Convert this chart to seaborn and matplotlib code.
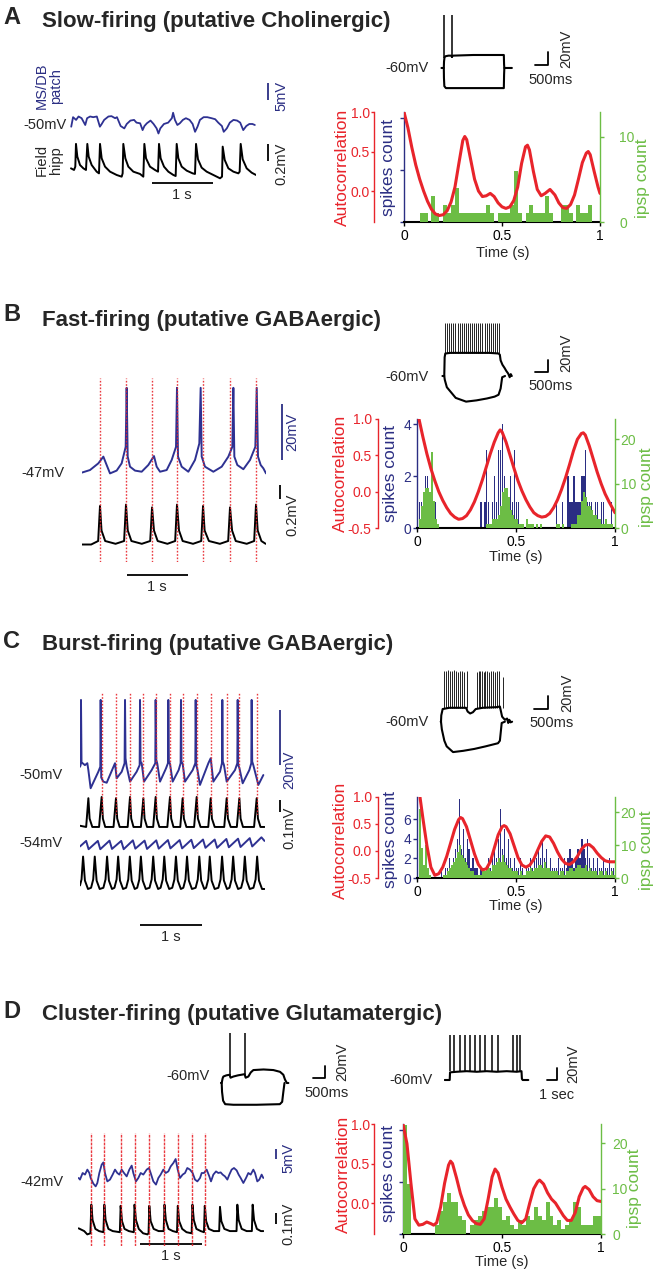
import numpy as np
import matplotlib
matplotlib.use("Agg")
import matplotlib.pyplot as plt
import seaborn as sns

sns.set_style("ticks")
plt.rcParams["font.family"] = ["Liberation Sans", "DejaVu Sans"]

RED = "#e8242b"
NAVY = "#2b2e83"
GREEN = "#6cbd45"
TRACE_BLUE = "#2e3192"

# ---------------- data ----------------
# A : slow-firing.  traces as (time s, mV / mV relative)
a_patch = [(0.02, -0.5), (0.05, 2.3), (0.10, 1.5), (0.14, 2.5), (0.19, 2.0), (0.25, 0.0), (0.28, 2.0),
           (0.33, 2.5), (0.38, 2.3), (0.44, 2.5), (0.49, -0.5), (0.52, 0.3), (0.56, 1.5), (0.63, 2.5),
           (0.68, 2.6), (0.74, 2.0), (0.77, 2.3), (0.83, -0.3), (0.89, -1.0), (0.93, 0.3), (0.99, 1.3),
           (1.05, 1.5), (1.09, 0.7), (1.15, 0.5), (1.19, -1.5), (1.22, -0.3), (1.26, 0.5), (1.32, 1.3),
           (1.37, 0.3), (1.42, -1.0), (1.45, -2.5), (1.48, -1.0), (1.54, 0.3), (1.61, 0.7), (1.67, 2.0),
           (1.69, 3.6), (1.72, 1.5), (1.76, 0.0), (1.80, 0.5), (1.85, 1.5), (1.90, 2.0), (1.96, 1.5),
           (2.01, 0.3), (2.05, -2.0), (2.09, -0.5), (2.13, 1.5), (2.19, 2.3), (2.25, 2.3), (2.32, 2.0),
           (2.38, 1.7), (2.43, 0.7), (2.49, -0.3), (2.52, -2.0), (2.57, -1.0), (2.62, 0.7), (2.68, 1.5),
           (2.74, 1.3), (2.79, 0.7), (2.84, -1.5), (2.89, -0.3), (2.94, 0.3), (2.99, 0.3), (3.03, 0.0)]
a_field = [(0.016, 0.137), (0.066, 0.118), (0.087, 0.157), (0.098, 0.424), (0.120, 0.275), (0.164, 0.176),
           (0.219, 0.137), (0.262, 0.118), (0.284, 0.424), (0.306, 0.275), (0.355, 0.176), (0.437, 0.098),
           (0.475, 0.078), (0.492, 0.424), (0.519, 0.255), (0.574, 0.157), (0.656, 0.098), (0.765, 0.059),
           (0.847, 0.039), (0.863, 0.078), (0.874, 0.424), (0.907, 0.255), (0.956, 0.157), (1.038, 0.098),
           (1.148, 0.071), (1.202, 0.039), (1.219, 0.424), (1.246, 0.255), (1.311, 0.157), (1.393, 0.118),
           (1.443, 0.098), (1.459, 0.424), (1.486, 0.255), (1.541, 0.157), (1.612, 0.098), (1.694, 0.059),
           (1.732, 0.047), (1.749, 0.424), (1.776, 0.255), (1.831, 0.157), (1.913, 0.110), (2.011, 0.078),
           (2.049, 0.071), (2.066, 0.424), (2.098, 0.243), (2.158, 0.145), (2.240, 0.098), (2.350, 0.059),
           (2.459, 0.020), (2.492, 0.039), (2.503, 0.392), (2.536, 0.235), (2.596, 0.137), (2.678, 0.098),
           (2.760, 0.078), (2.781, 0.098), (2.798, 0.424), (2.831, 0.243), (2.896, 0.137), (2.978, 0.086),
           (3.049, 0.059)]
a_step_up = [(-20, -60), (70, -60), (78, -50), (95, -44), (130, -42), (250, -41), (365, -41), (380, -43),
             (420, -41), (1200, -40), (2380, -40), (2390, -55), (2400, -60), (2690, -60)]
a_step_dn = [(70, -60), (75, -75), (90, -88), (150, -91), (2380, -91), (2390, -70), (2400, -60)]
a_step_spikes = [95, 373]
a_acorr = [(0.00, 1.00), (0.02, 0.80), (0.04, 0.55), (0.06, 0.33), (0.08, 0.15), (0.10, 0.00), (0.12, -0.13),
           (0.14, -0.23), (0.16, -0.29), (0.18, -0.31), (0.20, -0.30), (0.22, -0.25), (0.24, -0.14),
           (0.26, 0.05), (0.28, 0.35), (0.30, 0.64), (0.31, 0.69), (0.32, 0.65), (0.34, 0.40), (0.36, 0.15),
           (0.38, 0.00), (0.40, -0.07), (0.42, -0.06), (0.44, -0.03), (0.46, -0.07), (0.48, -0.15),
           (0.50, -0.20), (0.52, -0.22), (0.54, -0.20), (0.56, -0.12), (0.58, 0.05), (0.60, 0.35),
           (0.62, 0.56), (0.63, 0.58), (0.64, 0.52), (0.66, 0.25), (0.68, 0.02), (0.70, -0.06), (0.72, -0.03),
           (0.745, 0.02), (0.77, -0.05), (0.79, -0.15), (0.81, -0.21), (0.83, -0.22), (0.85, -0.17),
           (0.87, -0.05), (0.89, 0.15), (0.91, 0.36), (0.93, 0.48), (0.94, 0.50), (0.95, 0.46), (0.97, 0.25),
           (0.99, 0.05), (1.00, -0.03)]
a_ipsp = [0, 0, 0, 0, 1, 1, 0, 3, 1, 0, 2, 1, 2, 4, 1, 1, 1, 1, 1, 1, 1, 2, 1, 0, 1,
          1, 1, 2, 6, 1, 0, 1, 2, 1, 1, 1, 3, 1, 0, 0, 2, 2, 1, 0, 2, 1, 1, 2, 0, 0]

# B : fast-firing
b_patch = [(0.0, -0.2), (0.131, 0.7), (0.268, 3.1), (0.35, 5.5), (0.393, 3.1), (0.459, -0.5), (0.568, 0.5),
           (0.650, 3.1), (0.716, 9.0), (0.732, 30.1), (0.749, 5.5), (0.787, 1.9), (0.869, 0.5), (0.978, 0.1),
           (1.087, 2.5), (1.180, 5.7), (1.224, 1.9), (1.279, 0.1), (1.388, 0.7), (1.470, 4.3), (1.541, 9.0),
           (1.557, 30.1), (1.574, 5.5), (1.634, 1.9), (1.743, 0.1), (1.852, 4.3), (1.923, 10.2), (1.945, 30.1),
           (1.962, 5.5), (2.016, 1.9), (2.153, 0.1), (2.290, 1.9), (2.399, 5.5), (2.464, 9.0), (2.481, 30.1),
           (2.497, 5.5), (2.546, 2.5), (2.645, 1.0), (2.754, 4.3), (2.841, 9.0), (2.864, 30.1), (2.885, 5.5),
           (2.929, 2.5), (2.973, 1.3), (3.016, -0.5)]
b_field = [(0.00, 0.05), (0.15, 0.05), (0.265, 0.10), (0.295, 0.60), (0.32, 0.25), (0.38, 0.10), (0.55, 0.06),
           (0.69, 0.10), (0.721, 0.62), (0.75, 0.25), (0.81, 0.10), (0.98, 0.06), (1.118, 0.10), (1.148, 0.58),
           (1.18, 0.25), (1.24, 0.10), (1.40, 0.06), (1.527, 0.10), (1.557, 0.62), (1.59, 0.25), (1.65, 0.10),
           (1.82, 0.06), (1.954, 0.10), (1.984, 0.60), (2.01, 0.25), (2.08, 0.10), (2.26, 0.06), (2.396, 0.10),
           (2.426, 0.58), (2.46, 0.25), (2.52, 0.10), (2.70, 0.06), (2.822, 0.10), (2.852, 0.62), (2.88, 0.25),
           (2.94, 0.10), (3.01, 0.06)]
b_marks = [0.295, 0.721, 1.148, 1.557, 1.984, 2.426, 2.852]
b_step_up = [(-10, -60), (60, -60), (75, -30), (100, -24), (300, -23), (1000, -23), (1800, -23), (2150, -24),
             (2200, -26), (2230, -35), (2300, -42), (2380, -47), (2450, -52), (2520, -56), (2580, -62),
             (2620, -57), (2660, -60)]
b_step_dn = [(60, -60), (80, -66), (160, -78), (280, -84), (500, -95), (900, -101), (1300, -99), (1700, -96),
             (2000, -93), (2150, -90), (2230, -80), (2290, -62), (2400, -60)]
b_step_spikes = [95, 170, 250, 330, 410, 490, 570, 650, 730, 810, 890, 970, 1050, 1130, 1210, 1290, 1370,
                 1450, 1530, 1610, 1690, 1770, 1850, 1930, 2010, 2090, 2160]
b_acorr = [(0.01, 1.00), (0.03, 0.75), (0.05, 0.52), (0.07, 0.32), (0.09, 0.15), (0.11, 0.00), (0.13, -0.12),
           (0.15, -0.22), (0.17, -0.30), (0.19, -0.35), (0.21, -0.38), (0.23, -0.37), (0.25, -0.33),
           (0.27, -0.25), (0.29, -0.14), (0.31, 0.00), (0.33, 0.16), (0.35, 0.34), (0.37, 0.52), (0.39, 0.68),
           (0.41, 0.81), (0.42, 0.85), (0.43, 0.82), (0.45, 0.68), (0.47, 0.50), (0.49, 0.32), (0.51, 0.15),
           (0.53, 0.01), (0.55, -0.11), (0.57, -0.21), (0.59, -0.29), (0.61, -0.33), (0.63, -0.35),
           (0.65, -0.34), (0.67, -0.30), (0.69, -0.22), (0.71, -0.11), (0.73, 0.03), (0.75, 0.19), (0.77, 0.37),
           (0.79, 0.56), (0.81, 0.72), (0.83, 0.80), (0.84, 0.81), (0.85, 0.78), (0.87, 0.63), (0.89, 0.45),
           (0.91, 0.27), (0.93, 0.11), (0.95, -0.03), (0.97, -0.14), (0.99, -0.24), (1.00, -0.29)]
b_spikes = [4, 1, 1, 1, 2, 2, 1, 1, 0, 1,
            0, 0, 0, 0, 0, 0, 0, 0, 0, 0,
            0, 0, 0, 0, 0, 0, 0, 0, 0, 0,
            0, 0, 1, 0, 1, 3, 1, 0, 1, 2,
            1, 3, 3, 4, 2, 1, 1, 2, 1, 3,
            1, 1, 0, 0, 0, 0, 0, 0, 0, 0,
            0, 0, 0, 0, 0, 0, 0, 0, 0, 0,
            1, 0, 0, 1, 0, 0, 2, 1, 1, 2,
            1, 1, 1, 2, 2, 3, 1, 1, 1, 0,
            1, 1, 0, 1, 1, 0, 0, 0, 1, 0]
b_ipsp = [0, 2, 5, 8, 9, 9, 8, 17, 6, 2,
          1, 0, 0, 0, 0, 0, 0, 0, 0, 0,
          0, 0, 0, 0, 0, 0, 0, 0, 0, 0,
          0, 0, 0, 0, 0, 1, 1, 1, 2, 2,
          2, 3, 5, 8, 9, 9, 7, 4, 3, 2,
          2, 1, 1, 1, 0, 2, 1, 1, 1, 0,
          1, 0, 1, 0, 0, 0, 0, 0, 0, 0,
          1, 1, 0, 1, 0, 0, 0, 0, 1, 1,
          1, 3, 3, 6, 8, 7, 5, 5, 4, 3,
          3, 2, 2, 1, 1, 2, 1, 1, 1, 0]

# C : burst-firing
c_patch1 = [(0.000, 5.9), (0.010, 6.5), (0.016, 30.2), (0.025, 7.2), (0.043, 7.2), (0.080, 6.5), (0.119, 7.2),
            (0.136, 4.7), (0.173, -1.9), (0.298, 4.1), (0.330, 5.9), (0.336, 30.2), (0.345, 2.0), (0.379, 0.5),
            (0.434, 0.1), (0.569, 7.2), (0.596, 1.7), (0.678, 4.1), (0.725, 7.2), (0.732, 30.2), (0.740, 9.0),
            (0.759, 6.0), (0.813, 0.5), (0.921, 4.1), (0.970, 6.5), (0.976, 30.2), (0.985, 7.8), (1.003, 7.2),
            (1.041, 0.5), (1.165, 4.7), (1.224, 7.2), (1.230, 30.2), (1.240, 8.4), (1.257, 7.0), (1.301, 0.5),
            (1.398, 5.3), (1.430, 7.2), (1.436, 30.2), (1.445, 7.8), (1.463, 7.0), (1.507, 0.5), (1.604, 4.7),
            (1.636, 7.2), (1.642, 30.2), (1.650, 7.8), (1.669, 7.0), (1.707, 0.5), (1.832, 4.7), (1.875, 7.2),
            (1.881, 30.2), (1.890, 6.5), (1.908, 5.0), (1.951, -0.7), (2.087, 7.2), (2.125, 9.0), (2.168, 0.5),
            (2.276, 4.1), (2.308, 7.2), (2.314, 30.2), (2.322, 7.8), (2.341, 6.5), (2.385, 0.5), (2.520, 4.7),
            (2.558, 7.2), (2.564, 30.2), (2.572, 6.5), (2.591, 5.5), (2.645, -0.1), (2.753, 4.7), (2.785, 7.2),
            (2.791, 30.2), (2.800, 7.8), (2.818, 6.5), (2.900, -0.7), (2.981, 2.9)]
c_field1 = [(0.00, 0.01), (0.10, 0.0), (0.136, 0.24), (0.156, 0.07), (0.20, 0.0), (0.31, 0.0), (0.352, 0.25),
            (0.372, 0.07), (0.41, 0.0), (0.545, 0.0), (0.585, 0.24), (0.605, 0.07), (0.645, 0.0), (0.775, 0.0),
            (0.813, 0.25), (0.833, 0.07), (0.87, 0.0), (0.99, 0.0), (1.030, 0.24), (1.05, 0.07), (1.09, 0.0),
            (1.19, 0.0), (1.230, 0.25), (1.25, 0.07), (1.29, 0.0), (1.42, 0.0), (1.463, 0.25), (1.483, 0.07),
            (1.52, 0.0), (1.63, 0.0), (1.669, 0.24), (1.689, 0.07), (1.73, 0.0), (1.855, 0.0), (1.897, 0.25),
            (1.917, 0.07), (1.96, 0.0), (2.085, 0.0), (2.125, 0.24), (2.145, 0.07), (2.19, 0.0), (2.345, 0.0),
            (2.385, 0.24), (2.405, 0.07), (2.45, 0.0), (2.55, 0.0), (2.591, 0.24), (2.611, 0.07), (2.65, 0.0),
            (2.83, 0.0), (2.873, 0.24), (2.893, 0.07), (2.935, 0.0), (3.0, 0.0)]
c_marks = [0.352, 0.585, 0.813, 1.030, 1.230, 1.463, 1.669, 1.897, 2.125, 2.385, 2.591, 2.873]
c_patch2 = [(0.00, -0.5), (0.10, 1.5), (0.14, -1.5), (0.29, 1.5), (0.33, -1.5), (0.48, 1.6), (0.52, -1.4),
            (0.67, 1.5), (0.71, -1.5), (0.86, 1.7), (0.90, -1.3), (1.05, 1.6), (1.09, -1.4), (1.24, 1.7),
            (1.28, -1.3), (1.43, 1.8), (1.47, -1.2), (1.62, 1.8), (1.66, -1.2), (1.81, 1.9), (1.85, -1.1),
            (2.00, 2.0), (2.04, -1.0), (2.19, 2.0), (2.23, -1.0), (2.38, 2.2), (2.42, -0.8), (2.57, 2.3),
            (2.61, -0.7), (2.76, 2.5), (2.80, -0.5), (2.95, 2.8), (3.00, 1.5)]
c_field2 = [(0.0, 0.03), (0.025, 0.08), (0.05, 0.27), (0.08, 0.07), (0.13, 0.0),
            (0.18, 0.01), (0.215, 0.08), (0.24, 0.27), (0.27, 0.07), (0.32, 0.0),
            (0.38, 0.01), (0.415, 0.08), (0.44, 0.27), (0.47, 0.07), (0.52, 0.0),
            (0.56, 0.01), (0.595, 0.08), (0.62, 0.27), (0.65, 0.07), (0.70, 0.0),
            (0.75, 0.01), (0.785, 0.08), (0.81, 0.27), (0.84, 0.07), (0.89, 0.0),
            (0.93, 0.01), (0.965, 0.08), (0.99, 0.27), (1.02, 0.07), (1.07, 0.0),
            (1.13, 0.01), (1.165, 0.08), (1.19, 0.27), (1.22, 0.07), (1.27, 0.0),
            (1.31, 0.01), (1.345, 0.08), (1.37, 0.27), (1.40, 0.07), (1.45, 0.0),
            (1.50, 0.01), (1.535, 0.08), (1.56, 0.27), (1.59, 0.07), (1.64, 0.0),
            (1.68, 0.01), (1.715, 0.08), (1.74, 0.27), (1.77, 0.07), (1.82, 0.0),
            (1.88, 0.01), (1.915, 0.08), (1.94, 0.27), (1.97, 0.07), (2.02, 0.0),
            (2.05, 0.01), (2.085, 0.08), (2.11, 0.27), (2.14, 0.07), (2.19, 0.0),
            (2.25, 0.01), (2.285, 0.08), (2.31, 0.27), (2.34, 0.07), (2.39, 0.0),
            (2.43, 0.01), (2.465, 0.08), (2.49, 0.27), (2.52, 0.07), (2.57, 0.0),
            (2.62, 0.01), (2.655, 0.08), (2.68, 0.27), (2.71, 0.07), (2.76, 0.0),
            (2.82, 0.01), (2.855, 0.08), (2.88, 0.27), (2.91, 0.07), (2.96, 0.0), (3.0, 0.0)]
c_step_up = [(-10, -60), (0, -60), (10, -50), (60, -40), (300, -38), (900, -38), (960, -44), (1050, -47),
             (1150, -45), (1250, -40), (1500, -38), (2000, -37), (2120, -36), (2150, -42), (2200, -52),
             (2300, -57), (2380, -55), (2420, -62), (2460, -57), (2500, -61), (2560, -60)]
c_step_dn = [(0, -60), (30, -72), (120, -90), (205, -99), (433, -108), (800, -106), (1200, -103), (1600, -99),
             (2052, -94), (2120, -90), (2185, -62), (2300, -60)]
c_step_spikes = [110, 180, 250, 320, 390, 460, 530, 600, 680, 760, 840, 920, 1290, 1350, 1410, 1470, 1530,
                 1600, 1670, 1740, 1810, 1880, 1950, 2020, 2090, 2240]
c_step_peaks = [20, 20, 22, 20, 20, 22, 20, 19, 20, 20, 19, 20, 19, 20, 20, 20, 19, 20, 20, 19, 20, 20, 19,
                20, 20, 11]
c_acorr = [(0.015, 1.00), (0.03, 0.60), (0.05, 0.10), (0.07, -0.30), (0.09, -0.45), (0.11, -0.42),
           (0.13, -0.30), (0.15, -0.10), (0.17, 0.15), (0.19, 0.40), (0.21, 0.58), (0.22, 0.62), (0.23, 0.60),
           (0.25, 0.45), (0.27, 0.20), (0.29, -0.05), (0.31, -0.25), (0.33, -0.35), (0.35, -0.33),
           (0.37, -0.20), (0.39, 0.05), (0.41, 0.30), (0.43, 0.45), (0.44, 0.47), (0.45, 0.45), (0.47, 0.32),
           (0.49, 0.10), (0.51, -0.12), (0.53, -0.26), (0.55, -0.30), (0.57, -0.26), (0.59, -0.15),
           (0.61, 0.02), (0.63, 0.18), (0.65, 0.28), (0.67, 0.26), (0.69, 0.14), (0.71, -0.02), (0.73, -0.15),
           (0.75, -0.23), (0.77, -0.25), (0.79, -0.20), (0.81, -0.10), (0.83, 0.03), (0.85, 0.11), (0.87, 0.12),
           (0.89, 0.06), (0.91, -0.04), (0.93, -0.12), (0.95, -0.18), (0.97, -0.20), (1.00, -0.20)]
c_spikes = [3, 5, 2, 1, 0, 1, 0, 0, 0, 0,
            0, 0, 1, 0, 1, 1, 2, 1, 2, 3,
            4, 8, 3, 5, 2, 4, 3, 1, 2, 1,
            1, 0, 1, 1, 0, 1, 2, 1, 2, 3,
            2, 4, 7, 3, 5, 2, 4, 2, 1, 2,
            1, 1, 2, 1, 0, 1, 1, 2, 1, 2,
            2, 3, 2, 4, 2, 3, 1, 2, 1, 1,
            1, 2, 1, 1, 2, 1, 2, 3, 2, 1,
            2, 3, 2, 4, 3, 2, 4, 2, 1, 2,
            1, 2, 1, 1, 2, 1, 1, 2, 1, 1]
c_ipsp = [0, 21, 9, 4, 10, 3, 1, 0, 0, 0,
          0, 0, 0, 1, 1, 2, 3, 4, 5, 6,
          8, 10, 7, 6, 5, 4, 3, 2, 2, 1,
          1, 1, 1, 2, 2, 3, 3, 2, 4, 4,
          5, 6, 5, 7, 5, 4, 3, 3, 2, 2,
          2, 1, 2, 1, 1, 2, 2, 3, 2, 3,
          3, 4, 4, 3, 5, 3, 3, 2, 2, 2,
          2, 1, 2, 2, 1, 2, 2, 3, 3, 2,
          3, 4, 4, 3, 3, 4, 2, 3, 2, 2,
          2, 1, 2, 2, 1, 2, 1, 1, 2, 1]

# D : cluster-firing
d_patch = [(0.011, 0.0), (0.032, -0.8), (0.075, 2.5), (0.113, 1.7), (0.151, 4.2), (0.183, 2.5), (0.204, 0.0),
           (0.247, -2.8), (0.285, -4.2), (0.312, -2.5), (0.344, 2.5), (0.382, 6.7), (0.409, 7.8), (0.435, 2.5),
           (0.473, -1.7), (0.516, -0.8), (0.559, 1.7), (0.597, 4.2), (0.634, 2.5), (0.667, 1.7), (0.704, 4.2),
           (0.742, 2.5), (0.785, 0.8), (0.828, 4.2), (0.866, 6.2), (0.892, 2.5), (0.935, -1.7), (0.973, 0.0),
           (1.011, 2.5), (1.054, 1.7), (1.108, 4.2), (1.145, 5.0), (1.172, 2.5), (1.215, -1.7), (1.258, -3.3),
           (1.296, 0.0), (1.333, 1.7), (1.376, 4.2), (1.414, 2.5), (1.457, 3.3), (1.495, 5.8), (1.538, 7.5),
           (1.575, 9.5), (1.608, 4.2), (1.645, 0.0), (1.688, 1.7), (1.726, 2.5), (1.763, 5.0), (1.806, 4.2),
           (1.849, 2.5), (1.887, -0.8), (1.925, -1.7), (1.968, 0.0), (1.995, 2.5), (2.032, 2.5), (2.075, 4.2),
           (2.118, 0.8), (2.145, -1.7), (2.183, 1.7), (2.226, 3.3), (2.263, 2.5), (2.301, 2.8), (2.333, 1.7),
           (2.371, 0.8), (2.409, -0.8), (2.441, 1.7), (2.478, 4.2), (2.516, 5.0), (2.559, 3.8), (2.591, 1.7),
           (2.624, 0.0), (2.667, -2.5), (2.710, 0.0), (2.747, 2.5), (2.785, 1.7), (2.828, 4.2), (2.855, 2.5),
           (2.892, -1.7), (2.925, -0.8), (2.962, 1.7), (2.989, 0.0)]
d_field = [(0.01, 0.045), (0.10, 0.02), (0.15, -0.01), (0.20, 0.0), (0.215, 0.26), (0.235, 0.12), (0.28, 0.04),
           (0.34, 0.02), (0.41, 0.01), (0.425, 0.26), (0.445, 0.12), (0.49, 0.04), (0.56, 0.02), (0.675, 0.01),
           (0.688, 0.25), (0.71, 0.11), (0.75, 0.04), (0.82, 0.02), (0.90, 0.01), (0.912, 0.26), (0.935, 0.12),
           (0.98, 0.04), (1.05, 0.0), (1.12, -0.01), (1.138, 0.0), (1.150, 0.25), (1.172, 0.11), (1.22, 0.04),
           (1.30, 0.02), (1.382, 0.02), (1.395, 0.26), (1.417, 0.12), (1.46, 0.04), (1.53, 0.02), (1.597, 0.01),
           (1.610, 0.25), (1.632, 0.11), (1.68, 0.04), (1.75, 0.01), (1.833, 0.0), (1.846, 0.26), (1.868, 0.12),
           (1.91, 0.04), (1.98, 0.02), (2.032, 0.01), (2.045, 0.25), (2.067, 0.11), (2.11, 0.04), (2.19, 0.02),
           (2.277, 0.02), (2.290, 0.24), (2.312, 0.11), (2.36, 0.04), (2.45, 0.02), (2.557, 0.02), (2.570, 0.26),
           (2.592, 0.12), (2.64, 0.04), (2.72, 0.02), (2.804, 0.02), (2.817, 0.26), (2.84, 0.12), (2.885, 0.04),
           (2.95, 0.02), (2.99, 0.02)]
d_marks = [0.215, 0.425, 0.688, 0.912, 1.150, 1.395, 1.610, 1.846, 2.045]
d_step1_up = [(-30, -60), (0, -60), (40, -52), (72, -49), (200, -47), (340, -46), (380, -51), (502, -49),
              (700, -47), (985, -45), (1030, -51), (1146, -49), (1250, -42), (1362, -38), (1800, -37),
              (2222, -38), (2508, -41), (2651, -46), (2720, -54), (2800, -60), (2866, -60)]
d_step1_dn = [(0, -60), (15, -75), (60, -90), (150, -96), (500, -97), (1500, -97), (2500, -96), (2600, -92),
              (2651, -75), (2700, -60)]
d_step1_spikes = [358, 1003]
d_step2_up = [(-200, -60), (300, -60), (333, -47), (1000, -46), (2000, -45), (3000, -46), (4000, -45),
              (5000, -46), (6000, -45), (7000, -46), (7480, -45), (7520, -58), (7600, -60), (8160, -60)]
d_step2_spikes = [333, 733, 1333, 1833, 2333, 2833, 3333, 3833, 4500, 5167, 6667, 7000, 7333]
d_acorr = [(0.00, 1.00), (0.02, 0.75), (0.04, 0.25), (0.06, -0.20), (0.08, -0.28), (0.10, -0.27),
           (0.12, -0.24), (0.14, -0.26), (0.155, -0.28), (0.17, -0.25), (0.19, -0.05), (0.21, 0.25),
           (0.23, 0.48), (0.24, 0.53), (0.25, 0.50), (0.27, 0.32), (0.29, 0.12), (0.31, -0.03), (0.33, -0.15),
           (0.35, -0.22), (0.37, -0.26), (0.39, -0.27), (0.41, -0.20), (0.43, 0.05), (0.45, 0.33),
           (0.465, 0.43), (0.48, 0.38), (0.50, 0.20), (0.52, 0.05), (0.54, -0.05), (0.56, -0.14), (0.58, -0.22),
           (0.60, -0.25), (0.62, -0.20), (0.64, 0.00), (0.66, 0.18), (0.68, 0.27), (0.69, 0.29), (0.71, 0.24),
           (0.73, 0.13), (0.75, 0.05), (0.77, 0.00), (0.79, -0.08), (0.81, -0.16), (0.83, -0.22), (0.85, -0.22),
           (0.87, -0.12), (0.89, 0.08), (0.91, 0.19), (0.92, 0.21), (0.94, 0.17), (0.96, 0.08), (0.98, 0.03),
           (1.00, 0.02)]
d_ipsp = [24, 11, 0, 0, 0, 0, 0, 0, 2, 5, 7, 9, 7, 7, 4, 3, 0, 2, 3, 4, 5, 6, 6, 8, 6,
          3, 4, 2, 1, 3, 2, 4, 3, 6, 4, 3, 7, 4, 2, 3, 1, 2, 3, 7, 6, 2, 2, 2, 4, 4]

titles = ["Slow-firing (putative Cholinergic)", "Fast-firing (putative GABAergic)",
          "Burst-firing (putative GABAergic)", "Cluster-firing (putative Glutamatergic)"]

# ---------------- figure helpers ----------------
W, H = 658, 1280
fig = plt.figure(figsize=(W / 100, H / 100), dpi=100)


def px_axes(x0, y0, x1, y1):
    return fig.add_axes([x0 / W, 1 - y1 / H, (x1 - x0) / W, (y1 - y0) / H])


def txt(x, y, s, size=10.5, **kw):
    kw.setdefault("ha", "center")
    kw.setdefault("va", "center")
    fig.text(x / W, 1 - y / H, s, fontsize=size, **kw)


def draw(ax, pts, color="black", lw=1.3):
    pts = np.asarray(pts, dtype=float)
    sns.lineplot(x=pts[:, 0], y=pts[:, 1], ax=ax, color=color, lw=lw,
                 sort=False, estimator=None)


def trace_ax(box, xlim, ylim):
    ax = px_axes(*box)
    ax.set_axis_off()
    return ax, xlim, ylim


def finish(ax, xlim, ylim):
    ax.set_xlim(xlim)
    ax.set_ylim(ylim)


def scalebar(ax, x, y, dx=0, dy=0, color="black"):
    ax.plot([x, x + dx], [y, y + dy], color=color, lw=1.3, clip_on=False, solid_capstyle="butt")


def marks(box, xlim, times, dash):
    ax = px_axes(*box)
    ax.set_axis_off()
    ax.vlines(times, 0, 1, colors=RED, linestyles=dash, lw=1.0, alpha=0.9)
    ax.set_xlim(xlim)
    ax.set_ylim(0, 1)


def step_plot(box, xlim, ylim, up, dn, spk_t, spk_top, spk_base, corner, bar_t, bar_v, spk_lw=1.1):
    ax = px_axes(*box)
    ax.set_axis_off()
    draw(ax, up, lw=1.5)
    if dn is not None:
        draw(ax, dn, lw=1.5)
    ax.vlines(spk_t, spk_base, spk_top, colors="black", lw=spk_lw)
    # L shaped scale bar
    ax.plot([corner[0] - bar_t, corner[0], corner[0]], [corner[1], corner[1], corner[1] + bar_v],
            color="black", lw=1.3, clip_on=False)
    ax.set_xlim(xlim)
    ax.set_ylim(ylim)


def acorr_plot(box, red_pos, curve, spikes, ipsp, rlim, rticks, slim, sticks, slabels,
               glim, gticks, rpad, gpad):
    ax = px_axes(*box)
    if spikes is not None:
        w = 1.0 / len(spikes)
        ax.bar(np.arange(len(spikes)) * w, spikes, width=w * 0.6, align="edge", color=NAVY, lw=0)
    ax.set_xlim(0, 1)
    ax.set_ylim(slim)
    ax.set_yticks(sticks)
    ax.set_yticklabels(slabels)
    ax.set_xticks([0, 0.5, 1])
    ax.set_xticklabels(["0", "0.5", "1"])
    for s in ["top", "right"]:
        ax.spines[s].set_visible(False)
    ax.spines["left"].set_color(NAVY)
    ax.spines["left"].set_linewidth(1.0)
    ax.spines["bottom"].set_color("black")
    ax.spines["bottom"].set_linewidth(1.5)
    ax.tick_params(axis="y", colors=NAVY, length=3, width=1, pad=1, labelsize=10)
    ax.tick_params(axis="x", colors="black", length=3, width=1, pad=2, labelsize=10)

    axg = ax.twinx()
    w = 1.0 / len(ipsp)
    axg.bar(np.arange(len(ipsp)) * w, ipsp, width=w, align="edge", color=GREEN, lw=0)
    axg.set_ylim(glim)
    axg.set_yticks(gticks)
    axg.set_yticklabels([str(g) for g in gticks])
    for s in ["top", "left", "bottom"]:
        axg.spines[s].set_visible(False)
    axg.spines["right"].set_color(GREEN)
    axg.spines["right"].set_linewidth(1.0)
    axg.tick_params(axis="y", colors=GREEN, length=3, width=1, pad=gpad, labelsize=10)

    axr = ax.twinx()
    c = np.asarray(curve, dtype=float)
    sns.lineplot(x=c[:, 0], y=c[:, 1], ax=axr, color=RED, lw=2.2, sort=False, estimator=None)
    axr.set_xlim(0, 1)
    axr.set_ylim(rlim)
    axr.set_ylabel("")
    for s in ["top", "right", "bottom"]:
        axr.spines[s].set_visible(False)
    axr.spines["left"].set_visible(True)
    axr.spines["left"].set_position(("axes", red_pos))
    axr.spines["left"].set_color(RED)
    axr.spines["left"].set_linewidth(1.0)
    axr.yaxis.set_ticks_position("left")
    axr.set_yticks(rticks)
    axr.set_yticklabels([f"{r:.1f}" for r in rticks])
    axr.tick_params(axis="y", colors=RED, length=2.5, width=1, pad=rpad, labelsize=10)
    return ax


def panel_head(letter, title, base_letter, base_title):
    txt(3, base_letter, letter, size=17, weight="bold", ha="left", va="baseline")
    txt(42, base_title, title, size=16, weight="bold", ha="left", va="baseline")


def acorr_labels(xr, xs, xg, yc, yg):
    txt(xr, yc, "Autocorrelation", size=12.5, color=RED, rotation=90)
    txt(xs, yc, "spikes count", size=12.5, color=NAVY, rotation=90)
    txt(xg, yg, "ipsp count", size=12.5, color=GREEN, rotation=90)


# ======================= A =======================
panel_head("A", titles[0], 24, 27)
ax, xl, yl = trace_ax((70, 105, 256, 140), (0, 3.049), (-4.41, 5.88))
draw(ax, a_patch, TRACE_BLUE, 1.3)
scalebar(ax, 3.246, 7.35, dy=5, color=NAVY)
finish(ax, xl, yl)
ax, xl, yl = trace_ax((70, 140, 256, 182), (0, 3.049), (-0.0235, 0.47))
draw(ax, a_field, "black", 1.4)
scalebar(ax, 3.246, 0.224, dy=0.2)
scalebar(ax, 1.344, -0.035, dx=1.0)
finish(ax, xl, yl)
txt(49, 86, "MS/DB\npatch", color=NAVY, rotation=90, linespacing=1.0)
txt(49, 160, "Field\nhipp", rotation=90, linespacing=1.0)
txt(45, 125, "-50mV")
txt(281, 96, "5mV", color=NAVY, rotation=90)
txt(281, 164, "0.2mV", rotation=90)
txt(182, 195, "1 s")

step_plot((440, 10, 515, 92), (-77, 2810), (-97, 29.3), a_step_up, a_step_dn, a_step_spikes, 22, -44,
          (4081, -55.4), 500, 20)
txt(407, 68, "-60mV")
txt(566, 49, "20mV", rotation=90)
txt(551, 80, "500ms")

acorr_plot((404, 112, 600, 222), -0.153, a_acorr, None, a_ipsp, (-0.392, 1.0), [0.0, 0.5, 1.0],
           (0, 2.11), [0, 1, 2], ["", "", ""], (0, 12.9), [0, 10], 0.5, 11)
acorr_labels(342, 389, 643, 167, 178)
txt(503, 253, "Time (s)")

# ======================= B =======================
panel_head("B", titles[1], 321, 326)
ax, xl, yl = trace_ax((82, 380, 266, 480), (0, 3.016), (-2.86, 32.9))
draw(ax, b_patch, TRACE_BLUE, 1.4)
scalebar(ax, 3.279, 4.3, dy=20, color=NAVY)
finish(ax, xl, yl)
ax, xl, yl = trace_ax((82, 495, 266, 552), (0, 3.016), (-0.057, 0.757))
draw(ax, b_field, "black", 1.4)
scalebar(ax, 3.246, 0.70, dy=0.2)
scalebar(ax, 0.738, -0.386, dx=1.0)
finish(ax, xl, yl)
marks((82, 378, 266, 562), (0, 3.016), b_marks, (0, (1.2, 1.2)))
txt(43, 473, "-47mV")
txt(292, 432, "20mV", color=NAVY, rotation=90)
txt(292, 515, "0.2mV", rotation=90)
txt(157, 587, "1 s")

step_plot((440, 315, 520, 410), (-104, 2976), (-114.4, 37.6), b_step_up, b_step_dn, b_step_spikes, 25, -23,
          (4054, -53.6), 500, 20, spk_lw=0.6)
txt(407, 377, "-60mV")
txt(566, 353, "20mV", rotation=90)
txt(551, 386, "500ms")

acorr_plot((417, 419, 615, 528), -0.197, b_acorr, b_spikes, b_ipsp, (-0.5, 1.0), [-0.5, 0.0, 0.5, 1.0],
           (0, 4.2), [0, 2, 4], ["0", "2", "4"], (0, 24.5), [0, 10, 20], 2, 1)
acorr_labels(340, 390, 647, 473, 487)
txt(516, 557, "Time (s)")

# ======================= C =======================
panel_head("C", titles[2], 648, 650)
ax, xl, yl = trace_ax((80, 695, 265, 795), (0, 3.008), (-4.36, 32.0))
draw(ax, c_patch1, TRACE_BLUE, 1.4)
scalebar(ax, 3.252, 6.5, dy=20, color=NAVY)
finish(ax, xl, yl)
ax, xl, yl = trace_ax((80, 794, 265, 832), (0, 3.008), (-0.042, 0.275))
draw(ax, c_field1, "black", 1.4)
scalebar(ax, 3.252, 0.125, dy=0.1)
finish(ax, xl, yl)
marks((80, 693, 265, 815), (0, 3.008), c_marks, (0, (1.2, 1.2)))
ax, xl, yl = trace_ax((80, 830, 265, 855), (0, 3.008), (-3.6, 5.45))
draw(ax, c_patch2, TRACE_BLUE, 1.4)
finish(ax, xl, yl)
ax, xl, yl = trace_ax((80, 852, 265, 895), (0, 3.008), (-0.05, 0.308))
draw(ax, c_field2, "black", 1.4)
scalebar(ax, 0.976, -0.3, dx=1.0)
finish(ax, xl, yl)
txt(41, 775, "-50mV")
txt(289, 770, "20mV", color=NAVY, rotation=90)
txt(289, 828, "0.1mV", rotation=90)
txt(41, 843, "-54mV")
txt(171, 937, "1 s")

step_plot((438, 665, 520, 760), (-108, 2844), (-120.5, 29.6), c_step_up, c_step_dn, c_step_spikes,
          c_step_peaks, -38, (3852, -40.0), 500, 20, spk_lw=0.6)
txt(407, 722, "-60mV")
txt(567, 693, "20mV", rotation=90)
txt(552, 723, "500ms")

acorr_plot((417, 797, 615, 878), -0.197, c_acorr, c_spikes, c_ipsp, (-0.5, 1.0), [-0.5, 0.0, 0.5, 1.0],
           (0, 8.24), [0, 2, 4, 6], ["0", "2", "4", "6"], (0, 24.6), [0, 10, 20], 2, 1)
acorr_labels(340, 390, 647, 840, 850)
txt(516, 906, "Time (s)")

# ======================= D =======================
panel_head("D", titles[3], 1018, 1020)
ax, xl, yl = trace_ax((78, 1150, 264, 1195), (0, 3.0), (-8.5, 14.0))
draw(ax, d_patch, TRACE_BLUE, 1.3)
scalebar(ax, 3.194, 9.5, dy=5, color=NAVY)
finish(ax, xl, yl)
ax, xl, yl = trace_ax((78, 1195, 264, 1240), (0, 3.0), (-0.061, 0.348))
draw(ax, d_field, "black", 1.4)
scalebar(ax, 3.194, 0.085, dy=0.1)
scalebar(ax, 1.0, -0.097, dx=1.0)
finish(ax, xl, yl)
marks((78, 1133, 264, 1246), (0, 3.0), d_marks, (0, (2.0, 0.8)))
txt(42, 1182, "-42mV")
txt(288, 1158, "5mV", color=NAVY, rotation=90)
txt(288, 1224, "0.1mV", rotation=90)
txt(171, 1256, "1 s")

step_plot((218, 1025, 292, 1110), (-159, 3023), (-105.9, 38.6), d_step1_up, d_step1_dn, d_step1_spikes, 25,
          -46, (4442, -51.5), 500, 20)
txt(188, 1076, "-60mV")
txt(342, 1062, "20mV", rotation=90)
txt(327, 1093, "500ms")

step_plot((444, 1025, 530, 1090), (-270, 8330), (-77, 33.5), d_step2_up, None, d_step2_spikes, 16.5, -45,
          (11030, -60), 1000, 20)
txt(411, 1080, "-60mV")
txt(573, 1064, "20mV", rotation=90)
txt(557, 1095, "1 sec")

acorr_plot((403, 1124, 601, 1234), -0.146, d_acorr, None, d_ipsp, (-0.392, 1.0), [0.0, 0.5, 1.0],
           (0, 2.12), [0, 1, 2], ["", "", ""], (0, 24.2), [0, 10, 20], 0.5, 5)
acorr_labels(343, 389, 634, 1174, 1188)
txt(502, 1262, "Time (s)")

fig.savefig("out.png", dpi=100)
